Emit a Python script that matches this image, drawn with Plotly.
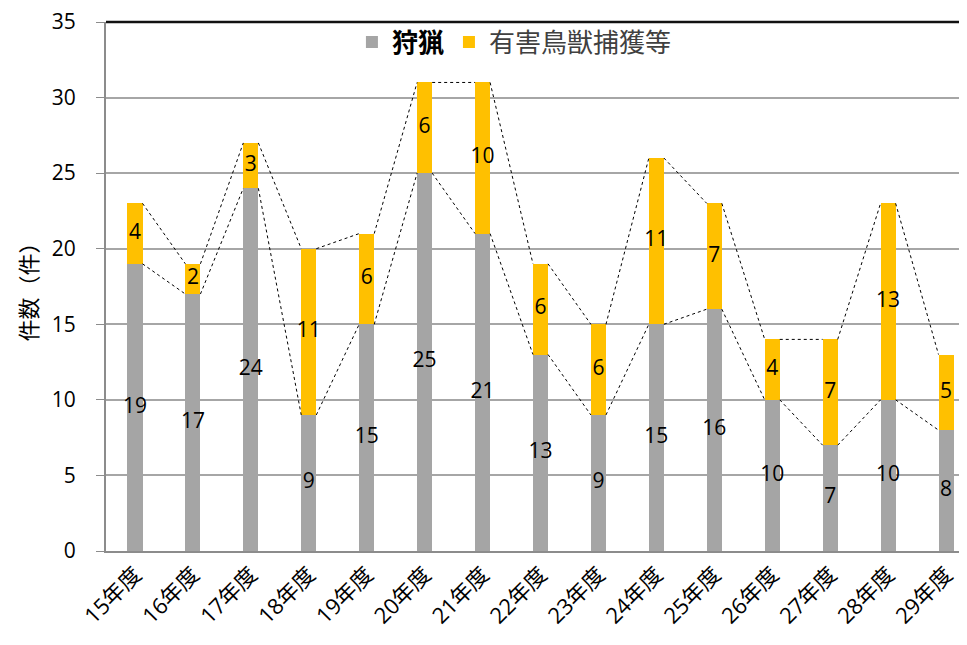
import plotly.graph_objects as go

categories = ["15年度", "16年度", "17年度", "18年度", "19年度", "20年度", "21年度", "22年度",
              "23年度", "24年度", "25年度", "26年度", "27年度", "28年度", "29年度"]
hunting = [19, 17, 24, 9, 15, 25, 21, 13, 9, 15, 16, 10, 7, 10, 8]
pest = [4, 2, 3, 11, 6, 6, 10, 6, 6, 11, 7, 4, 7, 13, 5]
y_ticks = [0, 5, 10, 15, 20, 25, 30, 35]

GRAY = "#A5A5A5"
GOLD = "#FFC000"
FONT = "Open Sans, Noto Sans CJK JP"
CJK = "Noto Sans CJK JP"
BW = 0.26

xs = list(range(len(categories)))
totals = [a + b for a, b in zip(hunting, pest)]

fig = go.Figure()
fig.add_trace(go.Bar(x=xs, y=hunting, width=BW, marker=dict(color=GRAY, line=dict(width=0)),
                     name="<b>狩猟</b>"))
fig.add_trace(go.Bar(x=xs, y=pest, width=BW, marker=dict(color=GOLD, line=dict(width=0)),
                     name="<span style='color:#404040'>有害鳥獣捕獲等</span>"))

# series lines
for series in (hunting, totals):
    lx, ly = [], []
    for i in range(len(series) - 1):
        lx += [i + BW / 2, i + 1 - BW / 2, None]
        ly += [series[i], series[i + 1], None]
    fig.add_trace(go.Scatter(x=lx, y=ly, mode="lines", showlegend=False, hoverinfo="skip",
                             line=dict(color="black", width=1, dash="dot")))

# labels
fig.add_trace(go.Scatter(x=xs, y=[h / 2 for h in hunting], mode="text",
                         text=[str(v) for v in hunting], showlegend=False,
                         textfont=dict(family=FONT, size=21, color="black")))
fig.add_trace(go.Scatter(x=xs, y=[h + p / 2 for h, p in zip(hunting, pest)], mode="text",
                         text=[str(v) for v in pest], showlegend=False,
                         textfont=dict(family=FONT, size=21, color="black")))

# top border of plot frame
fig.add_shape(type="line", xref="paper", yref="paper", x0=0, x1=1, y0=1, y1=1,
              line=dict(color="#111111", width=2.5))

fig.update_layout(
    width=967, height=645,
    margin=dict(l=98, r=0, t=14, b=102),
    barmode="stack",
    plot_bgcolor="white", paper_bgcolor="white",
    font=dict(family=FONT, size=20, color="black"),
    legend=dict(orientation="h", x=0.47, y=0.962, xanchor="center", yanchor="middle",
                bgcolor="rgba(0,0,0,0)", font=dict(size=26, family=CJK), itemwidth=30,
                traceorder="normal"),
    xaxis=dict(tickmode="array", tickvals=xs, ticktext=categories, tickangle=-45,
               range=[-0.5, 14.5], showgrid=False, showline=True, linecolor="#8c8c8c",
               linewidth=2, ticks="", tickfont=dict(size=22, family=FONT)),
    yaxis=dict(range=[0, 35], tickmode="array", tickvals=y_ticks, showgrid=True,
               gridcolor="#a6a6a6", gridwidth=1.5, showline=True, linecolor="#8c8c8c",
               linewidth=2, ticks="outside", ticklen=8, tickcolor="#8c8c8c",
               tickfont=dict(size=21, family=FONT), zeroline=False,
               ticklabeloverflow="allow", ticklabelstandoff=16,
               title=dict(text="件数（件）", font=dict(size=22, family=CJK), standoff=8)),
)

fig.write_html("out.html")
